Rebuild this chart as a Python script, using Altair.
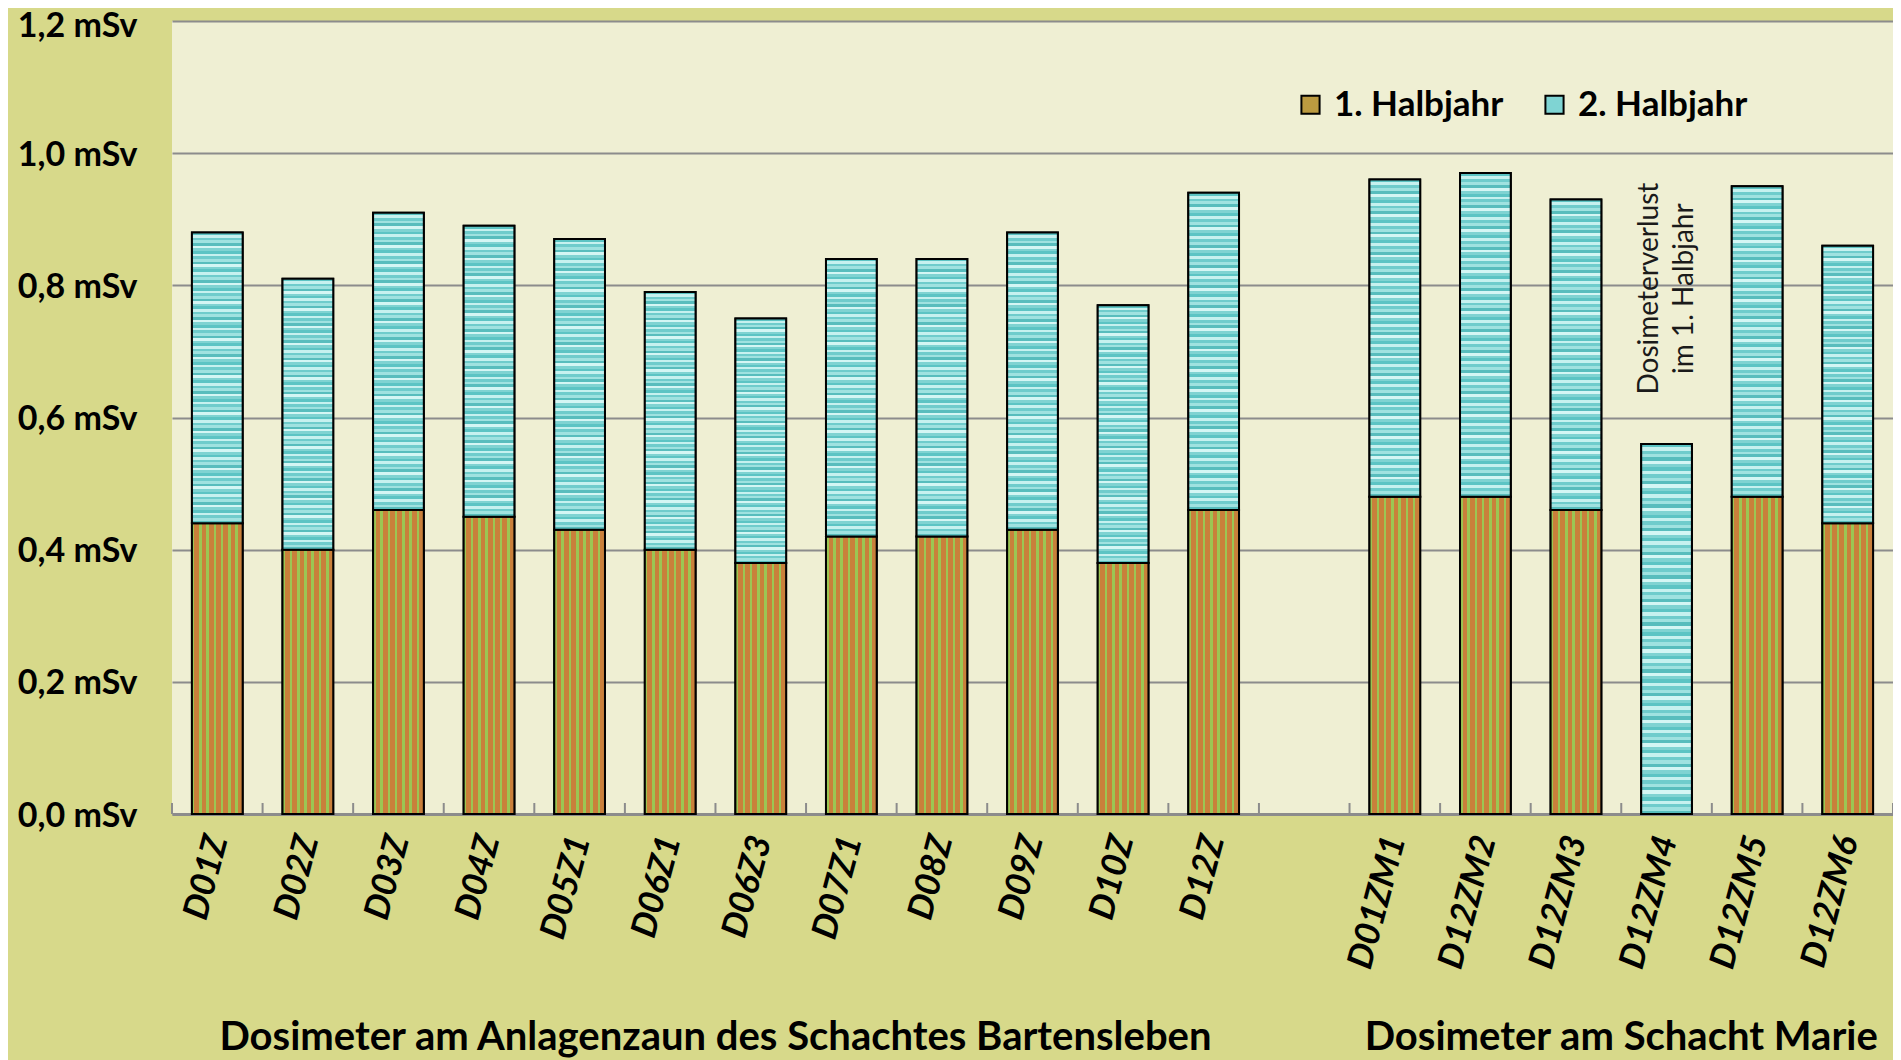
import altair as alt
import pandas as pd

# ---------------- data ----------------
categories = ["D01Z", "D02Z", "D03Z", "D04Z", "D05Z1", "D06Z1", "D06Z3", "D07Z1",
              "D08Z", "D09Z", "D10Z", "D12Z", " ",
              "D01ZM1", "D12ZM2", "D12ZM3", "D12ZM4", "D12ZM5", "D12ZM6"]
bar_cats = ["D01Z", "D02Z", "D03Z", "D04Z", "D05Z1", "D06Z1", "D06Z3", "D07Z1",
            "D08Z", "D09Z", "D10Z", "D12Z",
            "D01ZM1", "D12ZM2", "D12ZM3", "D12ZM4", "D12ZM5", "D12ZM6"]
first_half = [0.44, 0.40, 0.46, 0.45, 0.43, 0.40, 0.38, 0.42, 0.42, 0.43, 0.38, 0.46,
              0.48, 0.48, 0.46, 0.00, 0.48, 0.44]
second_half = [0.44, 0.41, 0.45, 0.44, 0.44, 0.39, 0.37, 0.42, 0.42, 0.45, 0.39, 0.48,
               0.48, 0.49, 0.47, 0.56, 0.47, 0.42]
series_names = ["1. Halbjahr", "2. Halbjahr"]
y_ticks = [0.0, 0.2, 0.4, 0.6, 0.8, 1.0, 1.2]
group_titles = ["Dosimeter am Anlagenzaun des Schachtes Bartensleben", "Dosimeter am Schacht Marie"]
group_anchor = ["D06Z1", "D12ZM3"]
note_cat = ["D12ZM4"]
note_text = ["Dosimeterverlust\nim 1. Halbjahr"]
note_y = [0.795]

df = pd.DataFrame({"cat": bar_cats, "h1": first_half, "h2": second_half})
df["top"] = df["h1"] + df["h2"]
df_ticks = pd.DataFrame({"cat": categories})
df_last = pd.DataFrame({"cat": categories[-1:]})
df_titles = pd.DataFrame({"cat": group_anchor, "title": group_titles})
df_note = pd.DataFrame({"cat": note_cat, "txt": note_text, "y": note_y})

# ---------------- style ----------------
W, H = 1721, 793
STEP = W / len(categories)
FONT = "Lato"
OUTER_BG = "#d7d98a"
PLOT_BG = "#efefd3"
GRID = "#8c8c8c"

green, orange = "#9bc653", "#c9803b"
stops1 = []
n1 = 7
for k in range(n1):
    a = k / n1
    m = a + 0.35 / n1
    b = (k + 1) / n1
    stops1 += [alt.GradientStop(offset=a, color=green), alt.GradientStop(offset=m, color=green),
               alt.GradientStop(offset=m, color=orange), alt.GradientStop(offset=b, color=orange)]
grad1 = alt.LinearGradient(gradient="linear", stops=stops1, x1=0, x2=1, y1=0, y2=0)

pal2 = ["#5cc4c4", "#c6f1ef", "#6fcccc", "#9fe2e0", "#58bdbd", "#d4f6f4", "#7fd3d2"]
stops2 = []
n2 = 110
for k in range(n2):
    a = k / n2
    b = (k + 1) / n2
    c = pal2[k % len(pal2)]
    stops2 += [alt.GradientStop(offset=a, color=c), alt.GradientStop(offset=b, color=c)]
grad2 = alt.LinearGradient(gradient="linear", stops=stops2, x1=0, x2=0, y1=0, y2=1)

xsc = alt.Scale(domain=categories, paddingInner=0.44, paddingOuter=0.22)
ysc = alt.Scale(domain=[0, 1.2], nice=False)

x_axis = alt.Axis(
    title=None, labelAngle=285, labelFont=FONT, labelFontSize=35, labelFontWeight="bold",
    labelFontStyle="italic", labelColor="black", labelPadding=22, ticks=False,
    domainColor=GRID, domainWidth=3, labelOverlap=False, grid=False,
)
y_axis = alt.Axis(
    title=None, values=y_ticks, labelExpr="replace(format(datum.value, '.1f'), '.', ',') + ' mSv'",
    labelFont=FONT, labelFontSize=34, labelFontWeight="bold", labelColor="black",
    labelPadding=35, labelOffset=alt.ExprRef(expr="datum.value > 1.1 ? 5 : 2"),
    ticks=False, domain=False, grid=True, gridColor=GRID, gridWidth=2,
)


def X():
    return alt.X("cat:N", scale=xsc, axis=x_axis, sort=categories, title=None)


base = alt.Chart(df)

legend_layer = base.transform_fold(["h1", "h2"], as_=["key", "val"]).transform_calculate(
    series="datum.key == 'h1' ? '1. Halbjahr' : '2. Halbjahr'"
).mark_bar(stroke="black", strokeWidth=2).encode(
    x=X(),
    y=alt.Y("val:Q", scale=ysc, axis=y_axis, stack="zero", title=None),
    color=alt.Color(
        "series:N",
        scale=alt.Scale(domain=series_names, range=["#bb9a40", "#7fd4d3"]),
        legend=alt.Legend(
            title=None, orient="none", legendX=1121, legendY=66, direction="horizontal",
            symbolType="square", symbolSize=330, symbolStrokeColor="black", symbolStrokeWidth=2,
            labelFont=FONT, labelFontSize=35, labelFontWeight="bold", labelColor="black",
            labelOffset=6, columnPadding=33, labelLimit=400,
        ),
    ),
    order=alt.Order("key:N"),
)

h1_layer = base.mark_bar(fill=grad1, stroke="black", strokeWidth=2).encode(
    x=X(),
    y=alt.Y("h1:Q", scale=ysc, axis=y_axis, title=None),
)

h2_layer = base.mark_bar(fill=grad2, stroke="black", strokeWidth=2).encode(
    x=X(),
    y=alt.Y("top:Q", scale=ysc, axis=y_axis, title=None),
    y2="h1:Q",
)

tick_layer = alt.Chart(df_ticks).mark_rule(color=GRID, strokeWidth=2, xOffset=-STEP / 2).encode(
    x=X(),
    y=alt.value(H), y2=alt.value(H - 11),
)
tick_last = alt.Chart(df_last).mark_rule(color=GRID, strokeWidth=2, xOffset=STEP / 2).encode(
    x=X(),
    y=alt.value(H), y2=alt.value(H - 11),
)

title_layer = alt.Chart(df_titles).mark_text(
    font=FONT, fontSize=40, fontWeight="bold", color="black", align="center",
    baseline="alphabetic", xOffset=STEP / 2,
).encode(
    x=X(),
    y=alt.value(1029),
    text="title:N",
)

note_layer = alt.Chart(df_note).mark_text(
    font=FONT, fontSize=28, color="#1a1a1a", align="center", baseline="middle",
    angle=270, lineBreak="\n", lineHeight=35, xOffset=-17,
).encode(
    x=X(),
    y=alt.Y("y:Q", scale=ysc, axis=y_axis, title=None),
    text="txt:N",
)

chart = alt.layer(
    legend_layer, h1_layer, h2_layer, tick_layer, tick_last, title_layer, note_layer
).properties(
    width=W, height=H, background=OUTER_BG,
    padding={"left": 164, "top": 13, "right": 0, "bottom": 246},
    autosize=alt.AutoSizeParams(type="none"),
).configure_view(fill=PLOT_BG, stroke=None)

chart.save("out.html", embed_options={"renderer": "svg", "actions": False})
